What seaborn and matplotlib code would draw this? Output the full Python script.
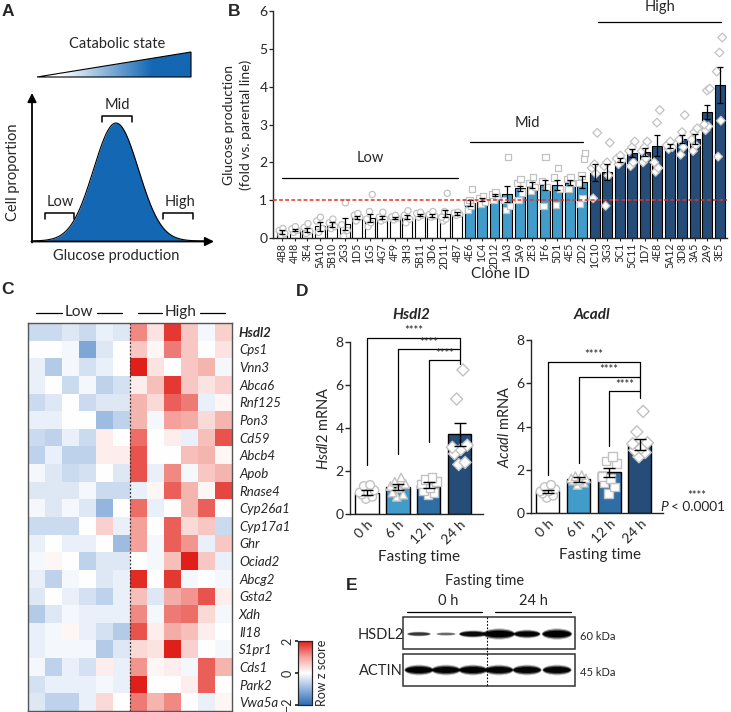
import numpy as np
import pandas as pd
import matplotlib
matplotlib.use('Agg')
import matplotlib.pyplot as plt
import seaborn as sns
from matplotlib.colors import LinearSegmentedColormap
from matplotlib.patches import Polygon, Ellipse, Rectangle

# ---------------- DATA ----------------
# Panel B
clones = ['4B8', '4H8', '3E4', '5A10', '5B10', '2G3', '1D5', '1G5', '4G7', '4F9', '3H3', '5B11', '3D6', '2D11', '4B7',
          '4E6', '1C4', '2D12', '1A3', '5A9', '2E3', '1F6', '5D1', '4E5', '2D2',
          '1C10', '3G3', '5C1', '5C11', '1D7', '4E8', '5A12', '3D8', '3A5', '2A9', '3E5']
groups = ['Low'] * 15 + ['Mid'] * 10 + ['High'] * 11
means_B = [0.15, 0.21, 0.22, 0.31, 0.35, 0.37, 0.55, 0.53, 0.53, 0.53, 0.55, 0.61, 0.60, 0.64, 0.65,
           0.93, 1.02, 1.13, 1.16, 1.31, 1.40, 1.40, 1.41, 1.46, 1.49,
           1.73, 1.75, 2.06, 2.24, 2.27, 2.44, 2.43, 2.61, 2.61, 3.33, 4.05]
errs_B = [0.05, 0.03, 0.05, 0.12, 0.06, 0.15, 0.04, 0.11, 0.04, 0.03, 0.05, 0.03, 0.04, 0.09, 0.03,
          0.08, 0.03, 0.03, 0.22, 0.06, 0.07, 0.13, 0.13, 0.06, 0.16,
          0.22, 0.21, 0.05, 0.10, 0.10, 0.27, 0.06, 0.10, 0.13, 0.19, 0.48]
reps_B = [[0.08, 0.12, 0.20, 0.25], [0.15, 0.20, 0.24, 0.30], [0.12, 0.18, 0.28, 0.38], [0.15, 0.25, 0.45, 0.55],
          [0.25, 0.30, 0.40, 0.50], [0.05, 0.20, 0.35, 0.93], [0.45, 0.55, 0.60, 0.65], [0.30, 0.40, 0.50, 0.70, 1.15],
          [0.45, 0.50, 0.55, 0.68], [0.48, 0.52, 0.56, 0.60], [0.40, 0.50, 0.60, 0.72], [0.55, 0.60, 0.65, 0.68],
          [0.55, 0.58, 0.62, 0.70], [0.45, 0.50, 0.55, 0.70, 1.18], [0.60, 0.63, 0.66, 0.68],
          [0.75, 0.85, 0.95, 1.00, 1.30], [0.90, 0.95, 1.05, 1.10], [1.00, 1.10, 1.15, 1.20], [0.75, 0.85, 1.00, 2.15],
          [1.00, 1.20, 1.45, 1.55], [1.25, 1.35, 1.45, 1.62], [0.85, 1.35, 1.50, 2.15], [0.87, 1.30, 1.60, 1.85],
          [1.30, 1.45, 1.55, 1.60], [0.90, 1.05, 1.45, 1.65, 2.10, 2.25],
          [1.05, 1.70, 1.85, 1.95, 2.78], [0.85, 1.65, 1.90, 2.00, 2.52], [1.95, 2.05, 2.10, 2.18],
          [1.90, 2.00, 2.30, 2.40, 2.55], [2.00, 2.10, 2.30, 2.40, 2.55], [1.75, 1.85, 2.00, 3.05, 3.38],
          [2.35, 2.40, 2.45, 2.55], [2.20, 2.40, 2.60, 2.80, 3.25], [2.30, 2.45, 2.60, 2.80, 2.90],
          [2.85, 2.95, 3.00, 3.90, 3.95], [2.15, 3.10, 4.40, 4.90, 5.30]]

# Panel C
genes = ['Hsdl2', 'Cps1', 'Vnn3', 'Abca6', 'Rnf125', 'Pon3', 'Cd59', 'Abcb4', 'Apob', 'Rnase4', 'Cyp26a1',
         'Cyp17a1', 'Ghr', 'Ociad2', 'Abcg2', 'Gsta2', 'Xdh', 'Il18', 'S1pr1', 'Cds1', 'Park2', 'Vwa5a']
z_low = [[-0.5, -0.5, -0.3, -0.5, -0.2, -0.3], [0.0, 0.0, -0.1, -1.2, -0.3, 0.0], [-0.2, -0.7, -0.1, -0.4, -0.2, 0.0],
         [-0.2, 0.0, -0.5, -0.1, -0.6, -0.4], [-0.5, -0.3, 0.0, -0.5, -0.3, -0.3], [-0.2, -0.2, 0.0, 0.0, -0.9, -0.6],
         [-0.5, -0.6, -0.2, -0.5, 0.2, 0.0], [-0.6, -0.2, -0.6, -0.6, 0.2, 0.2], [-0.1, -0.3, -0.5, -0.4, 0.0, -0.3],
         [-0.3, -0.3, -0.3, -0.1, -0.5, -0.5], [-0.1, -0.3, -0.1, -0.3, -1.0, 0.0], [-0.5, -0.5, -0.5, 0.0, 0.5, -0.2],
         [-0.2, 0.0, -0.2, -0.2, 0.0, -0.9], [-0.1, 0.1, 0.0, -0.6, -0.3, -0.3], [-0.2, -0.6, -0.1, 0.0, -0.3, -0.2],
         [-0.3, 0.0, -0.2, -0.4, -0.6, -0.2], [-0.7, -0.3, -0.1, -0.2, -0.2, -0.2], [-0.2, -0.1, 0.1, -0.2, -0.4, -0.7],
         [-0.2, -0.1, -0.1, -0.1, -0.7, -0.3], [-0.1, -0.6, -0.2, -0.4, 0.2, -0.2], [-0.4, -0.2, -0.2, -0.2, -0.1, -0.2],
         [-0.3, -0.6, -0.6, -0.2, 0.4, 0.0]]
z_high = [[1.2, 0.3, 1.8, 0.6, -0.1, 0.5], [0.6, 0.1, 1.3, 0.6, 0.0, 0.3], [2.0, 0.3, 0.0, 0.6, 0.8, -0.1],
          [0.2, 0.7, 1.8, 0.6, 0.3, 0.5], [0.8, 0.4, 1.5, 1.3, -0.2, 0.1], [0.8, -0.1, 1.0, 0.9, 0.4, 0.8],
          [1.4, 0.0, 0.2, -0.2, 0.7, 1.6], [1.6, 0.0, 0.0, 0.7, 0.8, 0.1], [1.6, -0.2, 1.2, -0.1, 0.6, 0.8],
          [-0.2, 0.1, 1.5, 0.8, 0.1, 1.7], [1.4, -0.2, 0.0, 0.8, 1.5, 0.0], [1.0, 0.0, 1.5, 0.4, 0.6, -0.5],
          [1.0, -0.1, 1.5, 1.1, -0.2, 0.6], [0.0, -0.1, 0.7, 2.1, 0.6, -0.2], [1.9, 0.0, 1.8, -0.1, 0.0, -0.1],
          [0.7, -0.3, 0.9, 1.1, 1.6, 0.2], [1.2, -0.1, 1.3, 1.4, 0.4, -0.1], [1.6, 0.2, 0.9, 0.7, 0.2, 0.0],
          [0.4, 0.3, 2.0, 0.5, 0.0, -0.1], [1.1, 0.1, 0.2, -0.1, 1.5, 0.8], [2.1, 0.0, 0.0, 0.2, 1.5, 0.0],
          [1.3, 0.8, 1.2, 0.0, -0.2, 0.1]]

# Panel D
times = ['0 h', '6 h', '12 h', '24 h']
hsdl2_mean = [1.0, 1.25, 1.35, 3.7]
hsdl2_err = [0.1, 0.13, 0.13, 0.55]
hsdl2_reps = [[0.7, 0.8, 0.9, 1.0, 1.0, 1.1, 1.3, 1.35], [0.8, 0.9, 1.0, 1.2, 1.3, 1.4, 1.5, 1.7],
              [0.9, 1.0, 1.1, 1.2, 1.4, 1.5, 1.6, 1.7], [2.3, 2.4, 2.8, 3.0, 3.1, 3.2, 5.35, 6.7]]
acadl_mean = [1.0, 1.55, 1.88, 3.15]
acadl_err = [0.08, 0.1, 0.2, 0.25]
acadl_reps = [[0.7, 0.8, 0.9, 1.0, 1.0, 1.1, 1.2, 1.3], [1.3, 1.4, 1.5, 1.5, 1.6, 1.6, 1.7, 1.75],
              [0.9, 1.2, 1.4, 1.6, 1.7, 2.3, 2.4, 2.6], [2.6, 2.8, 2.9, 3.0, 3.2, 3.25, 3.75, 4.7]]

# Panel E (band intensities)
lanes_E = ['0 h', '0 h', '0 h', '24 h', '24 h', '24 h']
hsdl2_band = [0.6, 0.4, 0.9, 1.0, 0.95, 1.0]
actin_band = [1.0, 0.95, 1.0, 0.95, 0.95, 0.95]

# ---------------- STYLE ----------------
sns.set_theme(style='ticks')
plt.rcParams['font.family'] = ['Lato', 'DejaVu Sans']
plt.rcParams['mathtext.fontset'] = 'custom'
plt.rcParams['mathtext.it'] = 'Lato:italic'
plt.rcParams['mathtext.rm'] = 'Lato'
plt.rcParams['axes.linewidth'] = 1.0

LIGHT = '#2aa4e0'
MED = '#1b6fb8'
NAVY = '#174c86'
BLUE_A = '#1467b3'
GREY = '#c2c2c2'

W, H = 731, 712
fig = plt.figure(figsize=(W / 100, H / 100), dpi=100)


def px_axes(l, t, r, b):
    return fig.add_axes([l / W, 1 - b / H, (r - l) / W, (b - t) / H])


ov = px_axes(0, 0, W, H)
ov.set_zorder(10)
ov.axis('off')

# ---------------- PANEL A ----------------
cmA = LinearSegmentedColormap.from_list('a', [(0, '#ffffff'), (0.15, '#ffffff'), (0.75, BLUE_A), (1, BLUE_A)])
grad = np.linspace(0, 1, 256).reshape(1, -1)
im = ov.imshow(grad, extent=(37, 191, 77, 52), cmap=cmA, aspect='auto', interpolation='bilinear')
tri = Polygon([(37, 77), (191, 52), (191, 77)], closed=True, facecolor='none', edgecolor='black', lw=0.8)
ov.add_patch(tri)
im.set_clip_path(tri)
ov.text(117, 44, 'Catabolic state', ha='center', va='center', fontsize=10.5)

xs_curve = np.linspace(33, 205, 300)
ys_curve = 241 - 118 * np.exp(-(xs_curve - 116) ** 2 / (2 * 22.5 ** 2))
ov.fill_between(xs_curve, ys_curve, 241, color=BLUE_A, lw=0)
ov.plot(xs_curve, ys_curve, color='black', lw=0.8)
ov.annotate('', xy=(32, 93), xytext=(32, 242.5),
            arrowprops=dict(arrowstyle='-|>', color='black', lw=1.3, mutation_scale=13, shrinkA=0, shrinkB=0))
ov.annotate('', xy=(214, 241.5), xytext=(31.4, 241.5),
            arrowprops=dict(arrowstyle='-|>', color='black', lw=1.3, mutation_scale=13, shrinkA=0, shrinkB=0))
for (x0, x1, yt, yb) in [(102, 132, 116, 122), (45, 74, 213, 219), (163, 193, 213, 219)]:
    ov.plot([x0, x0, x1, x1], [yb, yt, yt, yb], color='black', lw=1.1)
ov.text(117, 105, 'Mid', ha='center', va='center', fontsize=10.5)
ov.text(60, 202, 'Low', ha='center', va='center', fontsize=10.5)
ov.text(180, 202, 'High', ha='center', va='center', fontsize=10.5)
ov.text(13, 172, 'Cell proportion', ha='center', va='center', rotation=90, fontsize=10.5)
ov.text(116, 256, 'Glucose production', ha='center', va='center', fontsize=10.5)
ov.set_xlim(0, W)
ov.set_ylim(H, 0)

# ---------------- PANEL B ----------------
axB = px_axes(273, 11, 727, 238)
dfB = pd.DataFrame({'clone': clones, 'mean': means_B, 'group': groups})
palB = {'Low': 'white', 'Mid': LIGHT, 'High': NAVY}
sns.barplot(data=dfB, x='clone', y='mean', hue='group', palette=palB, dodge=False, width=0.8,
            edgecolor='black', linewidth=0.8, legend=False, ax=axB, order=clones, errorbar=None, zorder=2)
px, py, pg = [], [], []
for i, (reps, g) in enumerate(zip(reps_B, groups)):
    n = len(reps)
    offs = np.linspace(-0.22, 0.22, n) if n > 1 else [0]
    order = [1, 3, 0, 2, 4, 5][:n]
    for k, v in enumerate(reps):
        px.append(i + offs[order[k] % n])
        py.append(v)
        pg.append(g)
sns.scatterplot(x=px, y=py, style=pg, markers={'Low': 'o', 'Mid': 's', 'High': 'D'}, color='white',
                edgecolor=GREY, s=20, linewidth=0.9, legend=False, ax=axB, zorder=3)
axB.errorbar(np.arange(len(clones)), means_B, yerr=errs_B, fmt='none', ecolor='black', elinewidth=0.9,
             capsize=2.2, capthick=0.9, zorder=4)
axB.axhline(1, color='#e8312a', ls=(0, (2.5, 1.5)), lw=1.1, zorder=5)
axB.plot([0, 14.1], [1.59, 1.59], color='black', lw=0.9, clip_on=False)
axB.plot([15.0, 24.1], [2.54, 2.54], color='black', lw=0.9, clip_on=False)
axB.plot([25.3, 35.1], [5.7, 5.7], color='black', lw=0.9, clip_on=False)
axB.text(7.1, 2.12, 'Low', ha='center', va='center', fontsize=10.5)
axB.text(19.6, 3.04, 'Mid', ha='center', va='center', fontsize=10.5)
axB.text(30.2, 6.1, 'High', ha='center', va='center', fontsize=10.5, clip_on=False)
axB.set_xlim(-0.72, 35.6)
axB.set_ylim(0, 6)
axB.set_yticks(range(7))
axB.tick_params(axis='y', labelsize=10, length=3, width=0.9, pad=1)
axB.tick_params(axis='x', labelsize=7.6, length=2.5, width=0.8, pad=1, rotation=90)
axB.set_xlabel('')
axB.set_ylabel('')
sns.despine(ax=axB)
ov.text(500, 274, 'Clone ID', ha='center', va='center', fontsize=11)
ov.text(229, 125, 'Glucose production', ha='center', va='center', rotation=90, fontsize=10)
ov.text(246, 125, '(fold vs. parental line)', ha='center', va='center', rotation=90, fontsize=10)

# ---------------- PANEL C ----------------
axC = px_axes(28, 323, 232, 711)
cax = px_axes(298, 641, 312, 705)
dfC = pd.DataFrame([lo + hi for lo, hi in zip(z_low, z_high)], index=genes)
cmC = LinearSegmentedColormap.from_list('rb', ['#2a6db3', '#93b5de', '#ffffff', '#f3a39c', '#e11f1a'])
sns.heatmap(dfC, cmap=cmC, vmin=-2, vmax=2, ax=axC, cbar_ax=cax, xticklabels=False, yticklabels=genes,
            cbar_kws={'ticks': [-2, 0, 2]})
axC.yaxis.tick_right()
axC.tick_params(axis='y', length=0, pad=5)
for k, lab in enumerate(axC.get_yticklabels()):
    lab.set_rotation(0)
    lab.set_fontstyle('italic')
    lab.set_fontsize(9.5)
    if k == 0:
        lab.set_fontweight('bold')
for sp in axC.spines.values():
    sp.set_visible(True)
    sp.set_color('#555555')
    sp.set_linewidth(1.0)
axC.axvline(6, color='#333333', ls=(0, (1.5, 1.5)), lw=0.9)
cax.yaxis.set_ticks_position('left')
cax.tick_params(axis='y', labelsize=9, length=2.5, pad=1)
for lab in cax.get_yticklabels():
    lab.set_rotation(90)
    lab.set_va('center')
cax.yaxis.set_label_position('right')
cax.set_ylabel('Row z score', fontsize=9, rotation=90, labelpad=3)
for sp in cax.spines.values():
    sp.set_visible(True)
    sp.set_linewidth(0.8)
for (x0, x1) in [(36, 62), (97, 122), (138, 162), (200, 225)]:
    ov.plot([x0, x1], [313, 313], color='black', lw=0.9)
ov.text(79, 312, 'Low', ha='center', va='center', fontsize=11)
ov.text(181, 312, 'High', ha='center', va='center', fontsize=11)

# ---------------- PANEL D ----------------
palD = {'0 h': 'white', '6 h': LIGHT, '12 h': MED, '24 h': NAVY}
markD = {'0 h': 'o', '6 h': '^', '12 h': 's', '24 h': 'D'}


def panel_d(box, means, errs, reps, gene, brackets, drop_to, xlabel_y, title_y):
    l, t, r, b = box
    ax = px_axes(l, t, r, b)
    df = pd.DataFrame({'time': times, 'mean': means})
    sns.barplot(data=df, x='time', y='mean', hue='time', palette=palD, width=0.75, edgecolor='black',
                linewidth=1.0, legend=False, ax=ax, order=times, errorbar=None, zorder=2)
    xx, yy, gg = [], [], []
    for i, (tm, rv) in enumerate(zip(times, reps)):
        n = len(rv)
        offs = np.linspace(-0.24, 0.24, n)
        order = [3, 6, 1, 4, 0, 7, 2, 5]
        for k, v in enumerate(rv):
            xx.append(i + offs[order[k % 8] % n])
            yy.append(v)
            gg.append(tm)
    sns.scatterplot(x=xx, y=yy, style=gg, markers=markD, color='white', edgecolor=GREY, s=38,
                    linewidth=1.0, legend=False, ax=ax, zorder=3)
    ax.errorbar(np.arange(4), means, yerr=errs, fmt='none', ecolor='black', elinewidth=1.0, capsize=4,
                capthick=1.0, zorder=4)
    tops = [bk[2] for bk in brackets]
    for (i0, ystart, ytop) in brackets:
        ax.plot([i0, i0, 3], [ystart, ytop, ytop], color='black', lw=0.9, clip_on=False)
        ax.text((i0 + 3) / 2, ytop + 0.06, '****', ha='center', va='bottom', fontsize=8, clip_on=False)
    ax.plot([3, 3], [max(tops), drop_to], color='black', lw=0.9, clip_on=False)
    ax.set_xlim(-0.55, 3.75)
    ax.set_ylim(0, 8)
    ax.set_yticks([0, 2, 4, 6, 8])
    ax.tick_params(axis='y', labelsize=10, length=3.5, width=1, pad=1)
    ax.tick_params(axis='x', labelsize=10, length=0, pad=3)
    for lab in ax.get_xticklabels():
        lab.set_rotation(45)
        lab.set_ha('right')
        lab.set_rotation_mode('anchor')
    ax.set_xlabel('')
    ax.set_ylabel(r'$\it{' + gene + '}$ mRNA', fontsize=10.5, labelpad=3)
    sns.despine(ax=ax)
    cx = (l + r) / 2
    ov.text(cx + 3, xlabel_y, 'Fasting time', ha='center', va='center', fontsize=11)
    ov.text(cx - 5, title_y, gene, ha='center', va='center', fontsize=11, fontstyle='italic', fontweight='bold')
    return ax


panel_d((350, 342, 483, 514), hsdl2_mean, hsdl2_err, hsdl2_reps, 'Hsdl2',
        [(0, 2.3, 8.2), (1, 2.8, 7.67), (2, 3.35, 7.16)], 7.0, 557, 315)
panel_d((531, 340, 663, 513), acadl_mean, acadl_err, acadl_reps, 'Acadl',
        [(0, 1.75, 7.0), (1, 2.3, 6.3), (2, 3.1, 5.65)], 5.3, 555, 315)
ov.text(697, 496, '****', ha='center', va='center', fontsize=8)
ov.text(668, 507, 'P', ha='right', va='center', fontsize=10, fontstyle='italic')
ov.text(671, 507, '< 0.0001', ha='left', va='center', fontsize=9.8)

# ---------------- PANEL E ----------------
lane_x = [419, 446, 473, 499, 527, 557]
hs_w = [22, 18, 26, 30, 25, 28]
hs_h = [4, 3, 6, 9, 7, 9]
for k in range(6):
    for s, a in [(1.25, 0.25), (1.0, 0.6), (0.7, 1.0)]:
        ov.add_patch(Ellipse((lane_x[k], 634), hs_w[k] * (0.9 + 0.15 * s), hs_h[k] * s,
                             facecolor='black', edgecolor='none', alpha=a * hsdl2_band[k]))
        ov.add_patch(Ellipse((lane_x[k], 670), 27 * (0.9 + 0.15 * s), 8.5 * s,
                             facecolor='black', edgecolor='none', alpha=a * actin_band[k]))
ov.add_patch(Rectangle((403, 617), 172, 32, facecolor='none', edgecolor='#333333', lw=1.1))
ov.add_patch(Rectangle((403, 654), 172, 32, facecolor='none', edgecolor='#333333', lw=1.1))
ov.plot([487, 487], [617, 686], color='black', lw=0.8, ls=(0, (1.5, 1.5)))
ov.text(381, 635, 'HSDL2', ha='center', va='center', fontsize=10.5)
ov.text(381, 671, 'ACTIN', ha='center', va='center', fontsize=10.5)
ov.text(580, 636, '60 kDa', ha='left', va='center', fontsize=8)
ov.text(580, 673, '45 kDa', ha='left', va='center', fontsize=8)
ov.text(485, 581, 'Fasting time', ha='center', va='center', fontsize=10.5)
ov.text(448, 601, '0 h', ha='center', va='center', fontsize=10.5)
ov.text(533, 601, '24 h', ha='center', va='center', fontsize=10.5)
ov.plot([407, 482], [612, 612], color='black', lw=0.9)
ov.plot([495, 571], [612, 612], color='black', lw=0.9)

# ---------------- PANEL LABELS ----------------
for lab, x, y in [('A', 8, 12), ('B', 234, 12), ('C', 8, 290), ('D', 302, 292), ('E', 352, 586)]:
    ov.text(x, y, lab, ha='center', va='center', fontsize=12.5, fontweight='bold',
            family=['Liberation Sans', 'DejaVu Sans'])

ov.set_xlim(0, W)
ov.set_ylim(H, 0)
fig.savefig('out.png', dpi=100)
